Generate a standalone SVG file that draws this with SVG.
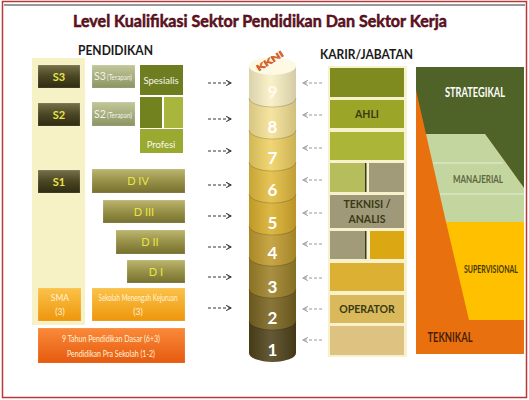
<svg xmlns="http://www.w3.org/2000/svg" width="529" height="400" viewBox="0 0 529 400">
<defs>
<linearGradient id="gS" x1="0" y1="0" x2="0" y2="1"><stop offset="0" stop-color="#77714a"/><stop offset="0.5" stop-color="#4a4522"/><stop offset="1" stop-color="#2f2b12"/></linearGradient>
<linearGradient id="gT" x1="0" y1="0" x2="0" y2="1"><stop offset="0" stop-color="#c2c79a"/><stop offset="1" stop-color="#8c9463"/></linearGradient>
<linearGradient id="gD" x1="0" y1="0" x2="0" y2="1"><stop offset="0" stop-color="#bdb670"/><stop offset="0.5" stop-color="#979048"/><stop offset="1" stop-color="#76702f"/></linearGradient>
<linearGradient id="gO" x1="0" y1="0" x2="0" y2="1"><stop offset="0" stop-color="#fbc24a"/><stop offset="1" stop-color="#ee960c"/></linearGradient>
<linearGradient id="gR" x1="0" y1="0" x2="0" y2="1"><stop offset="0" stop-color="#fa8a3a"/><stop offset="1" stop-color="#e65a0e"/></linearGradient>
<linearGradient id="gCyl" x1="0" y1="0" x2="1" y2="0"><stop offset="0" stop-color="#000" stop-opacity="0.12"/><stop offset="0.45" stop-color="#fff" stop-opacity="0.12"/><stop offset="1" stop-color="#000" stop-opacity="0.15"/></linearGradient>
<marker id="ahL" viewBox="0 0 8 8" refX="7" refY="4" markerWidth="7" markerHeight="7" orient="auto" markerUnits="userSpaceOnUse"><path d="M1.5,1 L7,4 L1.5,7" fill="none" stroke="#333" stroke-width="1.3"/></marker>
<marker id="ahR" viewBox="0 0 8 8" refX="7" refY="4" markerWidth="7" markerHeight="7" orient="auto" markerUnits="userSpaceOnUse"><path d="M1.5,1 L7,4 L1.5,7" fill="none" stroke="#999" stroke-width="1.2"/></marker>
</defs>
<style>
text{font-family:Lato,"Open Sans","Liberation Sans",sans-serif}
.title{font-size:17px;font-weight:bold;fill:#6a1020;stroke:#3a0810;stroke-width:0.5}
.head{font-size:14px;font-weight:bold;fill:#1a1a1a}
.s{font-size:11px;font-weight:bold;fill:#e8e44a;text-anchor:middle}
.t{font-size:7px;fill:#f4f4ea}
.t2{font-size:10.5px;fill:#f4f4ea}
.w{font-size:9.5px;fill:#f8f8ee;text-anchor:middle}
.d{font-size:11px;fill:#e6e640;text-anchor:middle}
.o{font-size:8.5px;fill:#fff3d8;text-anchor:middle}
.num{font-size:17px;font-weight:bold;fill:#ffffff;text-anchor:middle}
.k{font-size:10.5px;font-weight:bold;fill:#3a3a14;text-anchor:middle}
.p{font-size:13px;font-weight:bold;text-anchor:middle}
.dl{stroke:#333;stroke-width:1;stroke-dasharray:3,2;fill:none;marker-end:url(#ahL)}
.dr{stroke:#999;stroke-width:1;stroke-dasharray:3,2;fill:none;marker-end:url(#ahR)}
.box{stroke:#ffffff;stroke-opacity:0.25;stroke-width:0.6}
</style>
<rect x="0" y="0" width="529" height="400" fill="#ffffff"/>
<rect x="2.5" y="1.5" width="524" height="396" fill="none" stroke="#b83838" stroke-width="1.5"/>
<line x1="4" y1="5" x2="525" y2="5" stroke="#333" stroke-width="1"/>

<text class="title" x="260" y="27" text-anchor="middle" textLength="374" lengthAdjust="spacingAndGlyphs">Level Kualifikasi Sektor Pendidikan Dan Sektor Kerja</text>
<text class="head" x="78" y="55" textLength="75" lengthAdjust="spacingAndGlyphs">PENDIDIKAN</text>
<text class="head" x="320" y="59" textLength="93" lengthAdjust="spacingAndGlyphs">KARIR/JABATAN</text>

<g id="pendidikan-bg"><rect x="32" y="58" width="53" height="267" fill="#f7f1c6"/></g>
<g id="s3"><rect class="box" x="38" y="65" width="42" height="23" fill="url(#gS)"/><text class="s" x="59" y="81">S3</text></g>
<g id="s2"><rect class="box" x="38" y="103" width="42" height="23" fill="url(#gS)"/><text class="s" x="59" y="119">S2</text></g>
<g id="s1"><rect class="box" x="38" y="170" width="42" height="23" fill="url(#gS)"/><text class="s" x="59" y="186">S1</text></g>
<g id="s3t"><rect class="box" x="92" y="65" width="43" height="23" fill="url(#gT)"/><text class="t2" x="94" y="80">S3</text><text class="t" x="107" y="80" textLength="25" lengthAdjust="spacingAndGlyphs">(Terapan)</text></g>
<g id="s2t"><rect class="box" x="92" y="102" width="43" height="24" fill="url(#gT)"/><text class="t2" x="94" y="118">S2</text><text class="t" x="107" y="118" textLength="25" lengthAdjust="spacingAndGlyphs">(Terapan)</text></g>
<g id="spesialis"><rect x="140" y="65" width="43" height="30" fill="#6e7d20"/><text class="w" x="161" y="84">Spesialis</text></g>
<g id="mid-a"><rect x="140" y="97" width="22" height="31" fill="#72821f"/></g>
<g id="mid-b"><rect x="164" y="97" width="19" height="31" fill="#a8b63e"/></g>
<g id="profesi"><rect x="140" y="129" width="43" height="24" fill="#9aaa30"/><text class="w" x="161" y="148">Profesi</text></g>
<g id="d4"><rect class="box" x="92" y="169" width="93" height="24" fill="url(#gD)"/><text class="d" x="138" y="185">D IV</text></g>
<g id="d3"><rect class="box" x="103" y="200" width="82" height="23" fill="url(#gD)"/><text class="d" x="144" y="216">D III</text></g>
<g id="d2"><rect class="box" x="116" y="230" width="69" height="24" fill="url(#gD)"/><text class="d" x="150" y="246">D II</text></g>
<g id="d1"><rect class="box" x="127" y="260" width="58" height="23" fill="url(#gD)"/><text class="d" x="156" y="276">D I</text></g>
<g id="sma"><rect class="box" x="38" y="288" width="43" height="33" fill="url(#gO)"/><text class="o" x="60" y="301">SMA</text><text class="o" x="60" y="315">(3)</text></g>
<g id="smk"><rect class="box" x="92" y="288" width="93" height="33" fill="url(#gO)"/><text class="o" x="138" y="301" textLength="79" lengthAdjust="spacingAndGlyphs">Sekolah Menengah Kejuruan</text><text class="o" x="138" y="315">(3)</text></g>
<g id="dasar"><rect class="box" x="38" y="328" width="147" height="35" fill="url(#gR)"/><text class="o" x="111" y="342" font-size="9.5" textLength="98" lengthAdjust="spacingAndGlyphs">9 Tahun Pendidikan Dasar (6+3)</text><text class="o" x="111" y="357" font-size="9.5" textLength="88" lengthAdjust="spacingAndGlyphs">Pendidikan Pra Sekolah (1-2)</text></g>

<g id="kkni-cylinder">
<path d="M249,321 L249,353 A23.5,9 0 0 0 296,353 L296,321 Z" fill="#4f421a"/>
<path d="M249,289 L249,321 A23.5,9 0 0 0 296,321 L296,289 Z" fill="#78631f"/>
<path d="M249,257 L249,289 A23.5,9 0 0 0 296,289 L296,257 Z" fill="#9c8027"/>
<path d="M249,226 L249,257 A23.5,9 0 0 0 296,257 L296,226 Z" fill="#bf9a2d"/>
<path d="M249,194 L249,226 A23.5,9 0 0 0 296,226 L296,194 Z" fill="#d9ae2c"/>
<path d="M249,162 L249,194 A23.5,9 0 0 0 296,194 L296,162 Z" fill="#e3bb3e"/>
<path d="M249,130 L249,162 A23.5,9 0 0 0 296,162 L296,130 Z" fill="#efd062"/>
<path d="M249,98 L249,130 A23.5,9 0 0 0 296,130 L296,98 Z" fill="#f5e094"/>
<path d="M249,66 L249,98 A23.5,9 0 0 0 296,98 L296,66 Z" fill="#f8efc2"/>
<path d="M249,66 L249,353 A23.5,9 0 0 0 296,353 L296,66 Z" fill="url(#gCyl)"/>
<path d="M249,98 A23.5,9 0 0 0 296,98 M249,130 A23.5,9 0 0 0 296,130 M249,162 A23.5,9 0 0 0 296,162 M249,194 A23.5,9 0 0 0 296,194 M249,226 A23.5,9 0 0 0 296,226 M249,257 A23.5,9 0 0 0 296,257 M249,289 A23.5,9 0 0 0 296,289 M249,321 A23.5,9 0 0 0 296,321" fill="none" stroke="#000" stroke-opacity="0.18" stroke-width="1"/>
<ellipse cx="272.5" cy="66" rx="23.5" ry="9" fill="#fdf9e2"/>
<text x="270" y="64" font-size="8.5" font-weight="bold" fill="#f08020" stroke="#c03010" stroke-width="0.4" text-anchor="middle" transform="rotate(-32 270 61)" textLength="30" lengthAdjust="spacingAndGlyphs">KKNI</text>
<text class="num" x="272.5" y="98" style="fill:#fffbe8">9</text>
<text class="num" x="272.5" y="133">8</text>
<text class="num" x="272.5" y="164">7</text>
<text class="num" x="272.5" y="196">6</text>
<text class="num" x="272.5" y="229">5</text>
<text class="num" x="272.5" y="259">4</text>
<text class="num" x="272.5" y="293">3</text>
<text class="num" x="272.5" y="324">2</text>
<text class="num" x="272.5" y="356">1</text>
</g>

<g id="connectors">
<path class="dl" d="M208,83 H231"/>
<path class="dl" d="M208,119 H231"/>
<path class="dl" d="M208,151 H231"/>
<path class="dl" d="M208,185 H231"/>
<path class="dl" d="M208,216 H231"/>
<path class="dl" d="M208,247 H231"/>
<path class="dl" d="M208,277 H231"/>
<path class="dl" d="M208,308 H231"/>
<path class="dr" d="M322,83 H303"/>
<path class="dr" d="M322,115 H303"/>
<path class="dr" d="M322,148 H303"/>
<path class="dr" d="M322,180 H303"/>
<path class="dr" d="M322,213 H303"/>
<path class="dr" d="M322,244 H303"/>
<path class="dr" d="M322,278 H303"/>
<path class="dr" d="M322,309 H303"/>
<path class="dr" d="M322,340 H303"/>
</g>

<g id="karir-bg"><rect x="328" y="66" width="79" height="291" fill="#f7f1cc"/></g>
<g id="k9"><rect x="330" y="68" width="74" height="29" fill="#808b1f"/></g>
<g id="ahli"><rect x="330" y="100" width="74" height="28" fill="#9ba628"/><text class="k" x="367" y="118">AHLI</text></g>
<g id="k7"><rect x="330" y="132" width="74" height="28" fill="#abb537"/></g>
<g id="k6"><rect x="330" y="163" width="35" height="29" fill="#b6bd5d"/><rect x="365" y="163" width="1.5" height="29" fill="#3a3a20"/><rect x="369" y="163" width="35" height="29" fill="#a19b79"/></g>
<g id="teknisi"><rect x="330" y="195" width="74" height="33" fill="#9f9979"/><text class="k" x="367" y="208">TEKNISI /</text><text class="k" x="367" y="223">ANALIS</text></g>
<g id="k4"><rect x="330" y="231" width="35" height="28" fill="#a19b79"/><rect x="365" y="231" width="1.5" height="28" fill="#3a3a20"/><rect x="370" y="231" width="34" height="28" fill="#dba814"/></g>
<g id="k3"><rect x="330" y="263" width="74" height="28" fill="#dcb032"/></g>
<g id="operator"><rect x="330" y="295" width="74" height="28" fill="#d9b95c"/><text class="k" x="367" y="313">OPERATOR</text></g>
<g id="k1"><rect x="330" y="326" width="74" height="29" fill="#ddc281"/></g>

<g id="jenjang">
<rect x="416" y="67" width="108" height="287" fill="#e8700f"/>
<polygon points="416,67 524,67 524,188 485,134 426,134 416,90" fill="#4f6228"/>
<polygon points="426,134 485,134 524,188 524,222 446,222" fill="#c4d6a0"/>
<line x1="433" y1="163" x2="503" y2="163" stroke="#fff" stroke-opacity="0.7" stroke-width="0.8"/>
<line x1="440" y1="194" x2="524" y2="194" stroke="#fff" stroke-opacity="0.7" stroke-width="0.8"/>
<polygon points="446,222 524,222 524,320 469,320" fill="#ffc000"/>
<text class="p" x="475" y="97" fill="#ffffff" textLength="60" lengthAdjust="spacingAndGlyphs">STRATEGIKAL</text>
<text class="p" x="478" y="183" fill="#5f6640" style="font-size:12px" textLength="50" lengthAdjust="spacingAndGlyphs">MANAJERIAL</text>
<text class="p" x="491" y="273" fill="#4a3a00" style="font-size:11px" textLength="54" lengthAdjust="spacingAndGlyphs">SUPERVISIONAL</text>
<text class="p" x="450" y="342" fill="#4a1e05" textLength="45" lengthAdjust="spacingAndGlyphs">TEKNIKAL</text>
</g>
</svg>
